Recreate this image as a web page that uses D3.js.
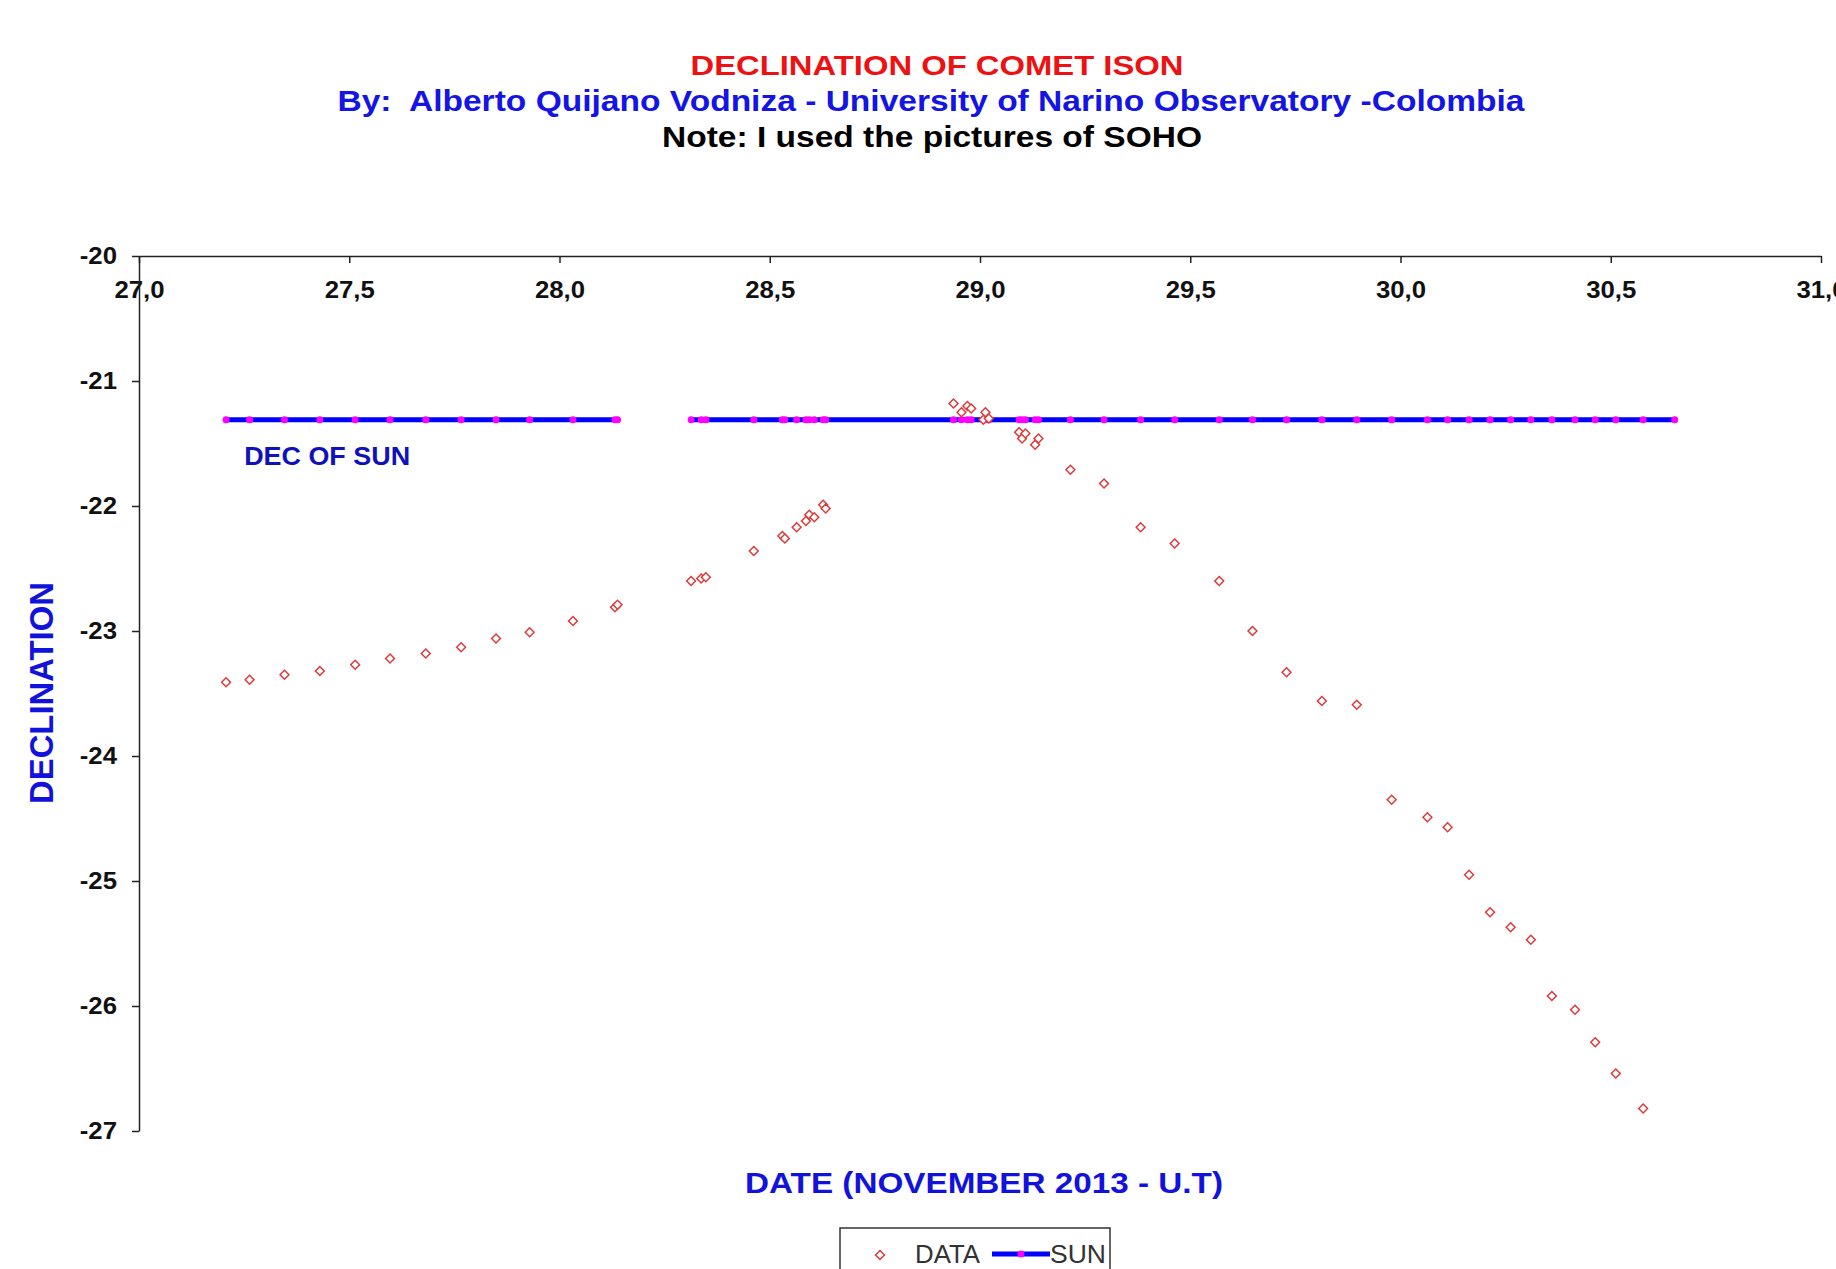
<!DOCTYPE html>
<html>
<head>
<meta charset="utf-8">
<script src="https://cdn.jsdelivr.net/npm/d3@7"></script>
<style>
  html, body { margin: 0; padding: 0; background: #ffffff; }
  svg { display: block; }
  text { font-family: "Liberation Sans", Arial, sans-serif; white-space: pre; }
</style>
</head>
<body>
<svg id="chart" width="1836" height="1269"></svg>
<script>
// ---- data ----
const cometDates = [27.207, 27.263, 27.346, 27.430, 27.514, 27.597, 27.682, 27.766, 27.849, 27.929,
  28.032, 28.132, 28.138, 28.313, 28.337, 28.348, 28.462, 28.530, 28.536, 28.564,
  28.586, 28.594, 28.606, 28.627, 28.633, 28.937, 28.956, 28.970, 28.979, 29.008,
  29.013, 29.021, 29.093, 29.100, 29.108, 29.131, 29.139, 29.215, 29.295, 29.382,
  29.463, 29.569, 29.648, 29.729, 29.813, 29.896, 29.979, 30.064, 30.112, 30.163,
  30.213, 30.262, 30.310, 30.360, 30.415, 30.463, 30.512, 30.577];
const cometDecl = [-23.41, -23.39, -23.35, -23.32, -23.27, -23.22, -23.18, -23.13, -23.06, -23.01,
  -22.92, -22.81, -22.79, -22.60, -22.58, -22.57, -22.36, -22.24, -22.26, -22.17,
  -22.12, -22.07, -22.09, -21.99, -22.02, -21.18, -21.25, -21.20, -21.22, -21.31,
  -21.25, -21.30, -21.41, -21.46, -21.42, -21.51, -21.46, -21.71, -21.82, -22.17,
  -22.30, -22.60, -23.00, -23.33, -23.56, -23.59, -24.35, -24.49, -24.57, -24.95,
  -25.25, -25.37, -25.47, -25.92, -26.03, -26.29, -26.54, -26.82];

const sunDates = [27.207, 27.263, 27.346, 27.430, 27.514, 27.597, 27.682, 27.766, 27.849, 27.929,
  28.032, 28.132, 28.138, 28.220, 28.313, 28.337, 28.348, 28.462, 28.530, 28.536, 28.564,
  28.586, 28.594, 28.606, 28.627, 28.633, 28.937, 28.956, 28.970, 28.979, 29.008,
  29.013, 29.021, 29.093, 29.100, 29.108, 29.131, 29.139, 29.215, 29.295, 29.382,
  29.463, 29.569, 29.648, 29.729, 29.813, 29.896, 29.979, 30.064, 30.112, 30.163,
  30.213, 30.262, 30.310, 30.360, 30.415, 30.463, 30.512, 30.577, 30.652];
const sunDecl = [-21.31, -21.31, -21.31, -21.31, -21.31, -21.31, -21.31, -21.31, -21.31, -21.31,
  -21.31, -21.31, -21.31, null, -21.31, -21.31, -21.31, -21.31, -21.31, -21.31, -21.31,
  -21.31, -21.31, -21.31, -21.31, -21.31, -21.31, -21.31, -21.31, -21.31, -21.31,
  -21.31, -21.31, -21.31, -21.31, -21.31, -21.31, -21.31, -21.31, -21.31, -21.31,
  -21.31, -21.31, -21.31, -21.31, -21.31, -21.31, -21.31, -21.31, -21.31, -21.31,
  -21.31, -21.31, -21.31, -21.31, -21.31, -21.31, -21.31, -21.31, -21.31];

const xTicks = [27.0, 27.5, 28.0, 28.5, 29.0, 29.5, 30.0, 30.5, 31.0];
const yTicks = [-20, -21, -22, -23, -24, -25, -26, -27];

const titleLines = [
  "DECLINATION OF COMET ISON",
  "By:  Alberto Quijano Vodniza - University of Narino Observatory -Colombia",
  "Note: I used the pictures of SOHO"
];
const xTitle = "DATE (NOVEMBER 2013 - U.T)";
const yTitle = "DECLINATION";
const sunNote = "DEC OF SUN";
const sunNoteAt = [27.25, -21.67];
const legendLabels = ["DATA", "SUN"];

// ---- drawing ----
const svg = d3.select("#chart");
const STRETCH = 1.12;

const x = d3.scaleLinear().domain([27, 31]).range([139, 1821]);
const y = d3.scaleLinear().domain([-20, -27]).range([256, 1131]);

function addText(parent, str, opts) {
  const t = parent.append("text")
    .attr("x", opts.x).attr("y", opts.y)
    .attr("font-size", opts.size)
    .attr("font-weight", opts.weight || "bold")
    .attr("fill", opts.fill || "#000")
    .attr("text-anchor", opts.anchor || "start")
    .text(str);
  if (opts.rotate) t.attr("transform", `rotate(${opts.rotate},${opts.x},${opts.y})`);
  if (opts.width) t.attr("textLength", opts.width).attr("lengthAdjust", "spacingAndGlyphs");
  return t;
}

// titles
addText(svg, titleLines[0], {x: 937, y: 75, size: 28, fill: "#ee1111", anchor: "middle", width: 493});
addText(svg, titleLines[1], {x: 931, y: 111, size: 29, fill: "#1414e6", anchor: "middle", width: 1187});
addText(svg, titleLines[2], {x: 932, y: 147, size: 29, fill: "#000000", anchor: "middle", width: 540});

// axes
const xAxis = d3.axisBottom(x).tickValues(xTicks)
  .tickFormat(d => d.toFixed(1).replace(".", ","))
  .tickSize(7).tickSizeOuter(0).tickPadding(19);
const yAxis = d3.axisLeft(y).tickValues(yTicks)
  .tickFormat(d => String(d))
  .tickSize(7).tickSizeOuter(0).tickPadding(15);

function styleAxis(g) {
  g.select(".domain").attr("stroke", "#222").attr("stroke-width", 1.5);
  g.selectAll(".tick line").attr("stroke", "#222").attr("stroke-width", 1.5);
  g.selectAll(".tick text")
    .attr("font-family", "'Liberation Sans', Arial, sans-serif")
    .attr("font-size", 23).attr("font-weight", "bold").attr("fill", "#111")
    .each(function() {
      const w = this.getComputedTextLength();
      d3.select(this).attr("textLength", w * STRETCH).attr("lengthAdjust", "spacingAndGlyphs");
    });
}

const gx = svg.append("g").attr("transform", `translate(0,${y(-20)})`).call(xAxis);
gx.attr("font-size", null).attr("font-family", null);
styleAxis(gx);
const gy = svg.append("g").attr("transform", `translate(${x(27)},0)`).call(yAxis);
gy.attr("font-size", null).attr("font-family", null);
styleAxis(gy);

// axis titles
addText(svg, yTitle, {x: 53, y: 693, size: 33, fill: "#1212dd", anchor: "middle", rotate: -90, width: 222});
addText(svg, xTitle, {x: 984, y: 1193, size: 30, fill: "#1212dd", anchor: "middle", width: 478});

// sun line
const sunData = sunDates.map((d, i) => ({date: d, dec: sunDecl[i]}));
const line = d3.line().defined(d => d.dec !== null).x(d => x(d.date)).y(d => y(d.dec));
svg.append("path").datum(sunData)
  .attr("d", line).attr("fill", "none").attr("stroke", "#0000ff").attr("stroke-width", 5);
svg.append("g").selectAll("circle").data(sunData.filter(d => d.dec !== null)).join("circle")
  .attr("cx", d => x(d.date)).attr("cy", d => y(d.dec)).attr("r", 3.5).attr("fill", "#ff00ff");

// sun annotation
addText(svg, sunNote, {x: x(sunNoteAt[0]), y: y(sunNoteAt[1]), size: 26, fill: "#1111bb", width: 166});

// comet data (open diamonds)
const diamond = d3.symbol().type(d3.symbolDiamond2).size(50);
const cometData = cometDates.map((d, i) => ({date: d, dec: cometDecl[i]}));
svg.append("g").selectAll("path").data(cometData).join("path")
  .attr("d", diamond)
  .attr("transform", d => `translate(${x(d.date)},${y(d.dec)})`)
  .attr("fill", "#ffffff").attr("stroke", "#dd3b3b").attr("stroke-width", 1.5);

// legend
const lg = svg.append("g");
lg.append("rect").attr("x", 840).attr("y", 1228).attr("width", 270).attr("height", 70)
  .attr("fill", "#fff").attr("stroke", "#333").attr("stroke-width", 1.5);
lg.append("path").attr("d", diamond).attr("transform", "translate(880,1255)")
  .attr("fill", "#fff").attr("stroke", "#dd3b3b").attr("stroke-width", 1.5);
addText(lg, legendLabels[0], {x: 915, y: 1263, size: 26, weight: "normal", fill: "#333", width: 65});
lg.append("line").attr("x1", 992).attr("x2", 1050).attr("y1", 1254).attr("y2", 1254)
  .attr("stroke", "#0000ff").attr("stroke-width", 5);
lg.append("circle").attr("cx", 1021).attr("cy", 1254).attr("r", 3.5).attr("fill", "#ff00ff");
addText(lg, legendLabels[1], {x: 1050, y: 1263, size: 26, weight: "normal", fill: "#333", width: 56});
</script>
</body>
</html>
